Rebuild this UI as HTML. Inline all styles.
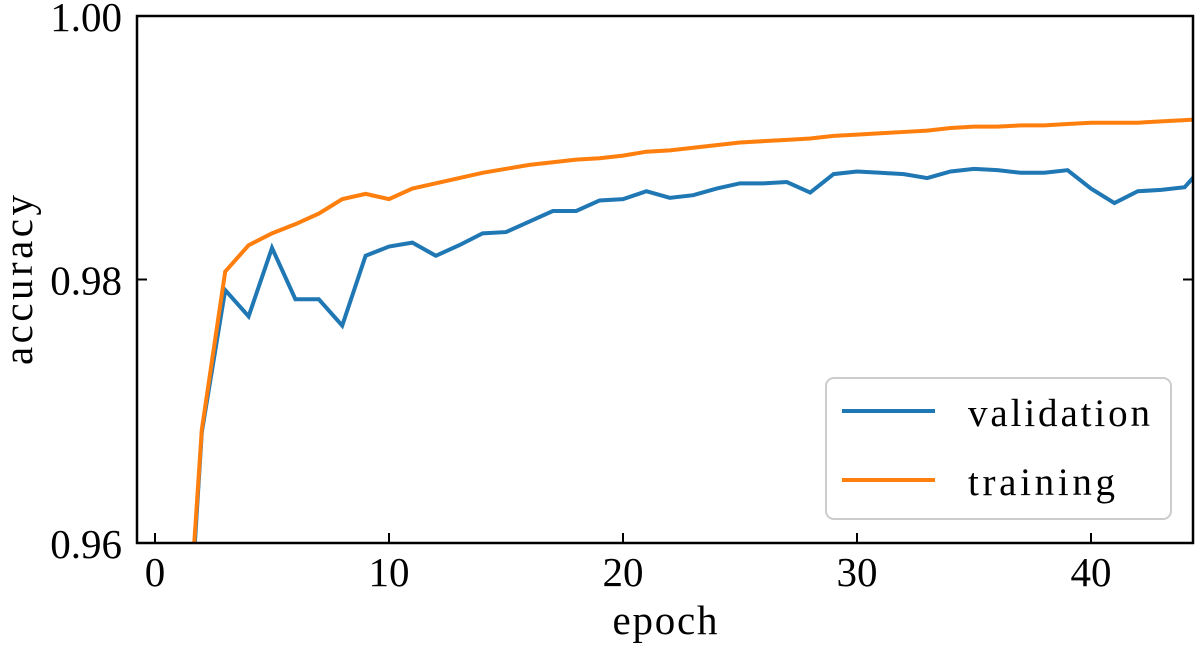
<!DOCTYPE html>
<html><head><meta charset="utf-8"><style>
html,body{margin:0;background:#fff;overflow:hidden;width:1200px;height:650px}
svg{display:block;font-family:"Liberation Serif",serif}
</style></head><body>
<svg id="chart" width="1200" height="650">
<defs><clipPath id="clip"><rect x="137" y="16" width="1056" height="527"/></clipPath></defs>
<g id="lines" clip-path="url(#clip)"></g>
<rect x="137" y="16" width="1056" height="527" fill="none" stroke="#000" stroke-width="2.5"/>
<g id="ticks"></g>
<text x="665" y="634" font-size="41" text-anchor="middle" textLength="105">epoch</text>
<text transform="translate(32,280) rotate(-90)" font-size="41" text-anchor="middle" textLength="170">accuracy</text>
<g>
<rect x="826" y="378" width="345" height="141" rx="8" fill="#fff" fill-opacity="0.8" stroke="#ccc" stroke-width="2"/>
<line x1="842" y1="411" x2="935" y2="411" stroke="#1f77b4" stroke-width="4"/>
<text x="968" y="426" font-size="39" textLength="182">validation</text>
<line x1="842" y1="480" x2="935" y2="480" stroke="#ff7f0e" stroke-width="4"/>
<text x="968" y="495" font-size="39" textLength="147">training</text>
</g>
</svg>
<script>
const epochs = Array.from({length:45},(_,i)=>i+1);
const validation = [0.940,0.9684,0.9792,0.9772,0.9824,0.9785,0.9785,0.9765,0.9818,0.9825,0.9828,0.9818,0.9826,0.9835,0.9836,0.9844,0.9852,0.9852,0.9860,0.9861,0.9867,0.9862,0.9864,0.9869,0.9873,0.9873,0.9874,0.9866,0.9880,0.9882,0.9881,0.9880,0.9877,0.9882,0.9884,0.9883,0.9881,0.9881,0.9883,0.9869,0.9858,0.9867,0.9868,0.9870,0.9890];
const training = [0.942,0.9686,0.9806,0.9826,0.9835,0.9842,0.9850,0.9861,0.9865,0.9861,0.9869,0.9873,0.9877,0.9881,0.9884,0.9887,0.9889,0.9891,0.9892,0.9894,0.9897,0.9898,0.9900,0.9902,0.9904,0.9905,0.9906,0.9907,0.9909,0.9910,0.9911,0.9912,0.9913,0.9915,0.9916,0.9916,0.9917,0.9917,0.9918,0.9919,0.9919,0.9919,0.9920,0.9921,0.9922];
const xTicks = [0,10,20,30,40];
const yTicks = [0.96,0.98,1.00];
const yTickLabels = ["0.96","0.98","1.00"];
const NS="http://www.w3.org/2000/svg";
const xs = e => 155 + e*23.4;
const ys = v => 543 - (v-0.96)/0.04*527;
const g = document.getElementById('lines');
function line(data,color,name){
  const p=document.createElementNS(NS,'polyline');
  p.setAttribute('points',data.map((v,i)=>xs(epochs[i])+','+ys(v)).join(' '));
  p.setAttribute('fill','none');p.setAttribute('stroke',color);
  p.setAttribute('stroke-width','4');p.setAttribute('stroke-linejoin','miter');
  
  
  g.appendChild(p);
}
line(validation,'#1f77b4','validation-line');
line(training,'#ff7f0e','training-line');
const t=document.getElementById('ticks');
xTicks.forEach(v=>{
  const l=document.createElementNS(NS,'line');
  l.setAttribute('x1',xs(v));l.setAttribute('x2',xs(v));l.setAttribute('y1',543);l.setAttribute('y2',533);
  l.setAttribute('stroke','#000');l.setAttribute('stroke-width','2');
  
  
  t.appendChild(l);
  const tx=document.createElementNS(NS,'text');
  tx.setAttribute('x',xs(v));tx.setAttribute('y',586);tx.setAttribute('font-size','41');tx.setAttribute('text-anchor','middle');
  tx.textContent=v;
  
  
  t.appendChild(tx);
});
yTicks.forEach((v,i)=>{
  [[137,147],[1193,1183]].forEach(([a,b])=>{
    const l=document.createElementNS(NS,'line');
    l.setAttribute('x1',a);l.setAttribute('x2',b);l.setAttribute('y1',ys(v));l.setAttribute('y2',ys(v));
    l.setAttribute('stroke','#000');l.setAttribute('stroke-width','2');
    
    
    t.appendChild(l);
  });
  const tx=document.createElementNS(NS,'text');
  tx.setAttribute('x',122);tx.setAttribute('y',ys(v)+15);tx.setAttribute('font-size','41');tx.setAttribute('text-anchor','end');
  tx.textContent=yTickLabels[i];
  
  
  t.appendChild(tx);
});
</script>
</body></html>
